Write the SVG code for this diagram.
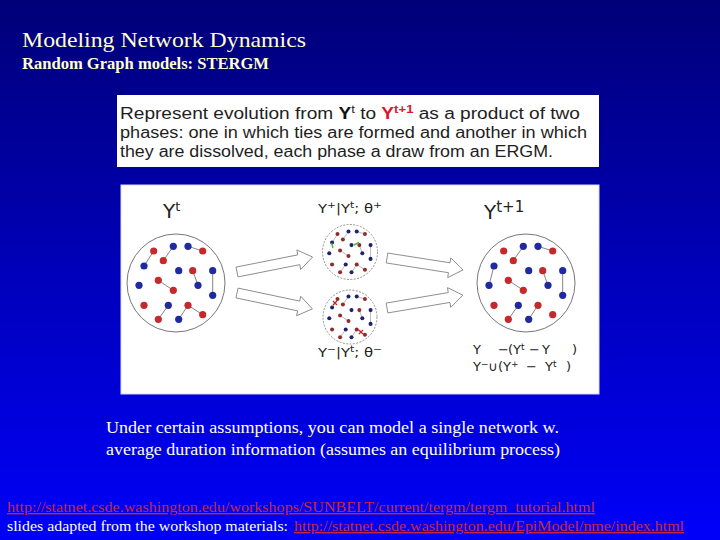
<svg xmlns="http://www.w3.org/2000/svg" xmlns:xlink="http://www.w3.org/1999/xlink" width="720" height="540" viewBox="0 0 720 540">
<style>
.title{font-family:"Liberation Serif","Times New Roman",serif;fill:#ffffc8}
.serif{font-family:"Liberation Serif","Times New Roman",serif}
.sans{font-family:"Liberation Sans",Arial,sans-serif;fill:#1e1e1e}
.math{font-family:"DejaVu Sans","Liberation Sans",sans-serif;fill:#222}
.link{fill:#c8283c;text-decoration:underline}
.r{fill:var(--rc,#c42a2c)}
.b{fill:var(--bc,#1f2aa0)}
.edge{stroke:#777;stroke-width:0.9;fill:none}
.ring{fill:none;stroke:#666;stroke-width:0.9}
.ring-s{fill:none;stroke:#777;stroke-width:0.8;stroke-dasharray:2 1.4}
.arrow{fill:#fff;stroke:#8a8a8a;stroke-width:0.9}
</style>
<defs>
<linearGradient id="bg" x1="0" y1="0" x2="0" y2="1">
<stop offset="0" stop-color="#000078"/>
<stop offset="1" stop-color="#0000fa"/>
</linearGradient>
<g id="dots">
<circle class="r" cx="-22.3" cy="-32" r="3.6"/>
<circle class="b" cx="-2.7" cy="-36.7" r="3.6"/>
<circle class="b" cx="12" cy="-36.7" r="3.6"/>
<circle class="r" cx="26.7" cy="-32" r="3.6"/>
<circle class="b" cx="-32" cy="-17" r="3.6"/>
<circle class="r" cx="-12.7" cy="-22.3" r="3.6"/>
<circle class="b" cx="2.7" cy="-12.3" r="3.6"/>
<circle class="r" cx="16.7" cy="-12.3" r="3.6"/>
<circle class="b" cx="36.7" cy="-12.3" r="3.6"/>
<circle class="b" cx="-37" cy="2.3" r="3.6"/>
<circle class="r" cx="-17.7" cy="-2.7" r="3.6"/>
<circle class="r" cx="-2.7" cy="7.3" r="3.6"/>
<circle class="b" cx="22" cy="2.3" r="3.6"/>
<circle class="b" cx="36.7" cy="12.3" r="3.6"/>
<circle class="r" cx="-32" cy="22.3" r="3.6"/>
<circle class="b" cx="-7.7" cy="22.3" r="3.6"/>
<circle class="r" cx="12" cy="22.3" r="3.6"/>
<circle class="r" cx="-17.7" cy="36.3" r="3.6"/>
<circle class="b" cx="2.7" cy="36.3" r="3.6"/>
<circle class="r" cx="26.7" cy="31.7" r="3.6"/>
</g>
<path id="edgesT" class="edge" d="M-22.3,-32L-32,-17M-2.7,-36.7L-12.7,-22.3M12,-36.7L26.7,-32M16.7,-12.3L22,2.3M36.7,-12.3L36.7,12.3M-17.7,-2.7L-2.7,7.3M-7.7,22.3L-17.7,36.3M12,22.3L2.7,36.3M12,22.3L26.7,31.7"/>
<path id="edgesT1" class="edge" d="M-2.7,-36.7L-12.7,-22.3M12,-36.7L26.7,-32M-32,-17L-37,2.3M16.7,-12.3L22,2.3M36.7,-12.3L36.7,12.3M-17.7,-2.7L-2.7,7.3M-7.7,22.3L-17.7,36.3M12,22.3L2.7,36.3"/>
<polygon id="arw" class="arrow" points="0,-5 63,-5 63,-10 77,0 63,10 63,5 0,5"/>
</defs>

<rect x="0" y="0" width="720" height="540" fill="url(#bg)"/>

<g id="title">
<text class="title" x="22" y="47" font-size="22" textLength="284" lengthAdjust="spacingAndGlyphs">Modeling Network Dynamics</text>
<text class="title" x="22" y="69" font-size="16" font-weight="bold" textLength="247" lengthAdjust="spacingAndGlyphs">Random Graph models: STERGM</text>
</g>

<g id="summary-box">
<rect x="117" y="95" width="482" height="72" fill="#fff"/>
<text class="sans" x="120" y="119" font-size="16" textLength="460" lengthAdjust="spacingAndGlyphs">Represent evolution from <tspan font-weight="bold" fill="#111">Y</tspan><tspan font-size="11" dy="-6">t</tspan><tspan dy="6"> to </tspan><tspan font-weight="bold" fill="#e0142e">Y</tspan><tspan font-size="11" dy="-6" fill="#e0142e" font-weight="bold">t+1</tspan><tspan dy="6"> as a product of two</tspan></text>
<text class="sans" x="120" y="138" font-size="16" textLength="467" lengthAdjust="spacingAndGlyphs">phases: one in which ties are formed and another in which</text>
<text class="sans" x="120" y="157" font-size="16" textLength="433" lengthAdjust="spacingAndGlyphs">they are dissolved, each phase a draw from an ERGM.</text>
</g>

<g id="figure">
<rect x="121" y="185" width="478" height="209" fill="#fff" stroke="#d8d8f4" stroke-width="1"/>
</g>

<g id="net-t">
<text class="math" x="163" y="218" font-size="20">Y<tspan font-size="13" dy="-7">t</tspan></text>
<circle class="ring" cx="176" cy="283" r="49"/>
<g transform="translate(176,283)">
<use xlink:href="#edgesT"/>
<use xlink:href="#dots"/>
</g>
</g>

<g id="net-plus">
<text class="math" x="318" y="213" font-size="12.5" textLength="64" lengthAdjust="spacingAndGlyphs">Y<tspan font-size="9" dy="-5">+</tspan><tspan dy="5">|Y</tspan><tspan font-size="9" dy="-5">t</tspan><tspan dy="5">; θ</tspan><tspan font-size="9" dy="-5">+</tspan></text>
<circle class="ring-s" cx="350" cy="252" r="27.5"/>
<g transform="translate(350,252) scale(0.56)" style="--rc:#8e2c2c;--bc:#1c226e">
<use xlink:href="#edgesT"/>
<use xlink:href="#dots"/>
</g>
<path d="M331.5,243 L333,248 M354,245 L359,242.5" stroke="#44c030" stroke-width="1.4" fill="none"/>
</g>

<g id="net-minus">
<circle class="ring-s" cx="350" cy="317" r="27"/>
<g transform="translate(350,317) scale(0.56)" style="--rc:#8e2c2c;--bc:#1c226e">
<use xlink:href="#edgesT"/>
<use xlink:href="#dots"/>
</g>
<path d="M333,301 L337,305 M337,301 L333,305 M359,330 L363,334 M363,330 L359,334" stroke="#d02020" stroke-width="1.2" fill="none"/>
<text class="math" x="318" y="357" font-size="12.5" textLength="64" lengthAdjust="spacingAndGlyphs">Y<tspan font-size="9" dy="-5">−</tspan><tspan dy="5">|Y</tspan><tspan font-size="9" dy="-5">t</tspan><tspan dy="5">; θ</tspan><tspan font-size="9" dy="-5">−</tspan></text>
</g>

<g id="net-t1">
<text class="math" x="484" y="219" font-size="20">Y<tspan font-size="15" dy="-7">t+1</tspan></text>
<circle class="ring" cx="526" cy="283" r="49"/>
<g transform="translate(526,283)">
<use xlink:href="#edgesT1"/>
<use xlink:href="#dots"/>
</g>
<text class="math" y="354" font-size="13"><tspan x="473">Y</tspan><tspan x="498">−</tspan><tspan x="508">(</tspan><tspan x="513">Y</tspan><tspan font-size="9" dy="-4">t</tspan><tspan x="529" dy="4">−</tspan><tspan x="542">Y</tspan><tspan x="572">)</tspan></text>
<text class="math" y="370.5" font-size="13"><tspan x="473">Y</tspan><tspan font-size="9" dy="-4">−</tspan><tspan x="488" dy="4">∪</tspan><tspan x="498">(</tspan><tspan x="503">Y</tspan><tspan font-size="9" dy="-4">+</tspan><tspan x="526" dy="4">−</tspan><tspan x="545">Y</tspan><tspan font-size="9" dy="-4">t</tspan><tspan x="566" dy="4">)</tspan></text>
</g>

<g id="connectors">
<use xlink:href="#arw" transform="translate(237,272) rotate(-11.2)"/>
<use xlink:href="#arw" transform="translate(237,293) rotate(11.9)"/>
<use xlink:href="#arw" transform="translate(387,258) rotate(8.9)"/>
<use xlink:href="#arw" transform="translate(387,308) rotate(-9.6)"/>
</g>

<g id="caption">
<text class="serif" x="106" y="433" font-size="17" fill="#fff" textLength="453" lengthAdjust="spacingAndGlyphs">Under certain assumptions, you can model a single network w.</text>
<text class="serif" x="106" y="455" font-size="17" fill="#fff" textLength="454" lengthAdjust="spacingAndGlyphs">average duration information (assumes an equilibrium process)</text>
</g>

<g id="links">
<text class="serif link" x="7" y="512" font-size="14" textLength="588" lengthAdjust="spacingAndGlyphs">http://statnet.csde.washington.edu/workshops/SUNBELT/current/tergm/tergm_tutorial.html</text>
<text class="serif" x="7" y="531" font-size="14" fill="#fff" textLength="281" lengthAdjust="spacingAndGlyphs">slides adapted from the workshop materials:</text>
<text class="serif link" x="294" y="531" font-size="14" textLength="390" lengthAdjust="spacingAndGlyphs">http://statnet.csde.washington.edu/EpiModel/nme/index.html</text>
</g>
</svg>
